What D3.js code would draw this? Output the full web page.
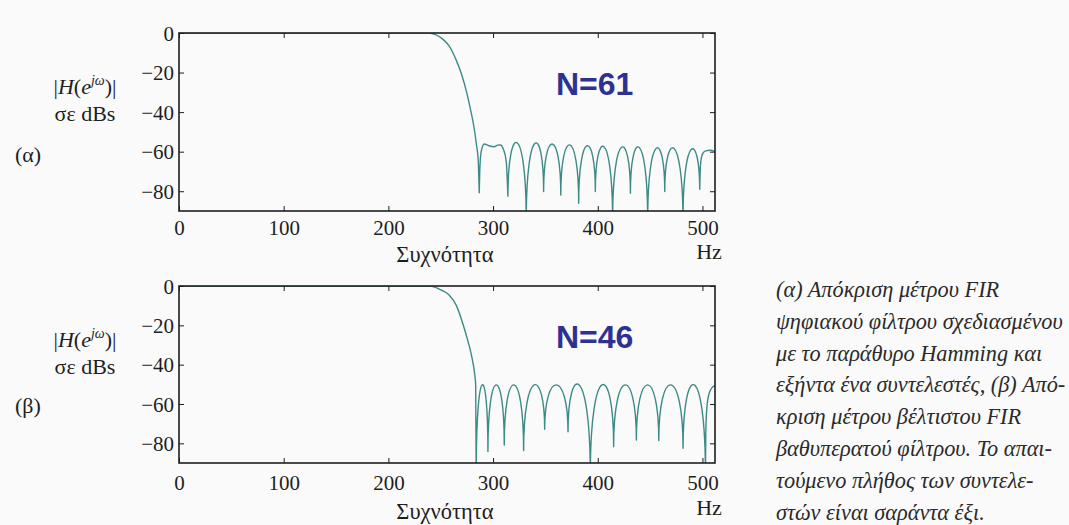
<!DOCTYPE html>
<html>
<head>
<meta charset="utf-8">
<script src="https://cdn.jsdelivr.net/npm/d3@7"></script>
<style>
  html, body { margin: 0; padding: 0; background: #fafafa; }
  svg { display: block; }
</style>
</head>
<body>
<svg id="fig" width="1069" height="525"></svg>
<script>
// Axis ticks
const freqTicks = [0, 100, 200, 300, 400, 500];   // Hz
const dbTicks = [0, -20, -40, -60, -80];          // dB

// (α) FIR lowpass, Hamming window, N = 61
// passband and transition band: [Hz, dB]
const passA = [[0, 0], [239, 0], [245, -0.8], [251, -2.7], [258, -6.5], [264.7, -13.6], [270, -21],
  [275, -30.5], [279, -40], [281.7, -47.4], [284, -56], [285.8, -64.2], [286.8, -81]];
// first stopband lobe (double hump)
const lobeA = [[286.8, -81], [287.5, -67], [288.8, -59.5], [291.6, -56.1], [296, -57], [301, -57.5],
  [304.5, -56.7], [307, -56.6], [310, -59], [312.6, -65], [314.2, -82.8]];
// stopband zeros and the level of the lobe between each pair
const nullHzA = [314.2, 331.7, 348.3, 364.7, 381.8, 397.7, 414.2, 431.2, 447.7, 464.0, 481.4, 497.4];
const nullDbA = [-82.8, -95, -80.2, -81.9, -86.1, -80.2, -95, -81, -95, -80.2, -95, -79.3];
const peakDbA = [-55.5, -55.8, -56.1, -56.6, -57, -57.5, -57.8, -57.8, -58.3, -58.3, -58.8];
// last partial lobe up to 512 Hz
const tailA = [[497.4, -79.3], [498.1, -67], [499.8, -61.5], [503, -59.6], [507.6, -59.3], [512, -60]];

// (β) optimal (equiripple) FIR lowpass, N = 46
const passB = [[0, 0], [239, 0], [245, -0.7], [251, -2.2], [258, -4.6], [265, -10], [271.5, -19.8],
  [276, -28], [280, -36.8], [282.5, -45], [283.4, -50.3], [283.9, -96]];
const nullHzB = [283.9, 295.1, 310.7, 329.2, 349.3, 371.6, 392.9, 415.2, 436.9, 458.3, 481.5, 502.9];
const nullDbB = [-96, -84.2, -80.9, -83.7, -72.9, -74.1, -96, -81.7, -78.3, -78.6, -82.5, -96];
const peakDbB = [-50.3, -50.3, -50.3, -50.3, -50.3, -50.3, -50.3, -50.3, -50.3, -50.3, -50.3];
const tailB = [[502.9, -96], [503.2, -75], [504.2, -62], [506.5, -54.5], [509.5, -51.5], [512, -50.6]];

// Text
const yLabelTop = "σε dBs";
const xName = "Συχνότητα";
const xUnit = "Hz";
const captionLines = [
  "(α) Απόκριση μέτρου FIR",
  "ψηφιακού φίλτρου σχεδιασμένου",
  "με το παράθυρο Hamming και",
  "εξήντα ένα συντελεστές, (β) Από-",
  "κριση μέτρου βέλτιστου FIR",
  "βαθυπερατού φίλτρου. Το απαι-",
  "τούμενο πλήθος των συντελε-",
  "στών είναι σαράντα έξι."
];

// ---- layout ----
const W = 1069, H = 525;
const left = 179, right = 715;
const serif = "'Liberation Serif', Tinos, 'Times New Roman', serif";
const ink = "#1e1e1e";
const curveColor = "#3d8a86";

const panels = [
  { id: "a", top: 33, bottom: 211, letter: "(α)", note: "N=61",
    pass: passA, extra: [lobeA], hz: nullHzA, db: nullDbA, peak: peakDbA, tail: tailA,
    tickY: 24, unitY: 259, nameY: 262, lab1: 94, lab2: 121, lab3: 162, noteY: 95 },
  { id: "b", top: 286, bottom: 463, letter: "(β)", note: "N=46",
    pass: passB, extra: [], hz: nullHzB, db: nullDbB, peak: peakDbB, tail: tailB,
    tickY: 27, unitY: 515, nameY: 519, lab1: 347, lab2: 374, lab3: 413, noteY: 348 }
];

const svg = d3.select("#fig");
svg.append("rect").attr("width", W).attr("height", H).attr("fill", "#fafafa");

const x = d3.scaleLinear().domain([0, 512]).range([left, right]);

// smooth curve through a list of [Hz, dB] points
function smooth(y, pts) {
  return d3.line().x(d => x(d[0])).y(d => y(d[1])).curve(d3.curveMonotoneX)(pts);
}
// stopband lobes: an arch between consecutive zeros, with vertical tangents at the zeros
function arches(y, hz, db, peak) {
  const p = d3.path();
  p.moveTo(x(hz[0]), y(db[0]));
  for (let i = 0; i < peak.length; i++) {
    const x1 = x(hz[i]), x2 = x(hz[i + 1]);
    const y1 = y(db[i]), y2 = y(db[i + 1]), yp = y(peak[i]);
    const c = (yp - 0.125 * (y1 + y2)) / 0.75;
    p.bezierCurveTo(x1, c, x2, c, x2, y2);
  }
  return p.toString();
}

panels.forEach(P => {
  const y = d3.scaleLinear().domain([-90, 0]).range([P.bottom, P.top]);
  const g = svg.append("g");

  g.append("clipPath").attr("id", "clip-" + P.id)
    .append("rect").attr("x", left).attr("y", P.top)
    .attr("width", right - left).attr("height", P.bottom - P.top);

  const plot = g.append("g").attr("clip-path", `url(#clip-${P.id})`);
  const d = [smooth(y, P.pass)]
    .concat(P.extra.map(e => smooth(y, e)))
    .concat([arches(y, P.hz, P.db, P.peak), smooth(y, P.tail)])
    .join(" ");
  plot.append("path").attr("d", d)
    .attr("fill", "none").attr("stroke", curveColor)
    .attr("stroke-width", 1.4).attr("stroke-linejoin", "round");

  // ticks on all four sides, pointing inward
  const fmtDb = v => v === 0 ? "0" : "\u2212" + Math.abs(v);
  const axB = g.append("g").attr("transform", `translate(0,${P.bottom})`)
    .call(d3.axisBottom(x).tickValues(freqTicks).tickSizeInner(-5).tickSizeOuter(0).tickPadding(0));
  axB.selectAll("text").attr("y", P.tickY).attr("dy", null);
  const axL = g.append("g").attr("transform", `translate(${left},0)`)
    .call(d3.axisLeft(y).tickValues(dbTicks).tickSizeInner(-5).tickSizeOuter(0).tickPadding(5).tickFormat(fmtDb));
  axL.selectAll("text").attr("dy", "0.34em");
  g.append("g").attr("transform", `translate(0,${P.top})`)
    .call(d3.axisTop(x).tickValues(freqTicks).tickSizeInner(-5).tickSizeOuter(0).tickFormat(""));
  g.append("g").attr("transform", `translate(${right},0)`)
    .call(d3.axisRight(y).tickValues(dbTicks).tickSizeInner(-5).tickSizeOuter(0).tickFormat(""));

  g.selectAll(".domain").remove();
  g.selectAll(".tick line").attr("stroke", ink).attr("stroke-width", 1);
  g.selectAll(".tick text").attr("font-family", serif).attr("font-size", 21).attr("fill", ink);

  g.append("rect").attr("x", left).attr("y", P.top)
    .attr("width", right - left).attr("height", P.bottom - P.top)
    .attr("fill", "none").attr("stroke", ink).attr("stroke-width", 1.6);

  // axis names
  g.append("text").attr("x", 709).attr("y", P.unitY).attr("text-anchor", "middle")
    .attr("font-family", serif).attr("font-size", 22).attr("fill", ink).text(xUnit);
  g.append("text").attr("x", (left + right) / 2 - 2).attr("y", P.nameY).attr("text-anchor", "middle")
    .attr("font-family", serif).attr("font-size", 22.5).attr("fill", ink).text(xName);

  const mag = g.append("text").attr("x", 85).attr("y", P.lab1).attr("text-anchor", "middle")
    .attr("font-family", serif).attr("font-size", 22).attr("fill", ink);
  mag.append("tspan").text("|");
  mag.append("tspan").attr("font-style", "italic").text("H");
  mag.append("tspan").text("(");
  mag.append("tspan").attr("font-style", "italic").text("e");
  mag.append("tspan").attr("font-style", "italic").attr("font-size", 14).attr("dy", -9).text("jω");
  mag.append("tspan").attr("dy", 9).text(")|");
  g.append("text").attr("x", 85).attr("y", P.lab2).attr("text-anchor", "middle")
    .attr("font-family", serif).attr("font-size", 22).attr("fill", ink).text(yLabelTop);
  g.append("text").attr("x", 15).attr("y", P.lab3)
    .attr("font-family", serif).attr("font-size", 22).attr("fill", ink).text(P.letter);

  g.append("text").attr("x", 556).attr("y", P.noteY)
    .attr("font-family", "'Liberation Sans', Arial, sans-serif").attr("font-weight", "bold")
    .attr("font-size", 32).attr("fill", "#2e3192").text(P.note);
});

// figure caption
const cap = svg.append("text").attr("font-family", serif).attr("font-style", "italic")
  .attr("font-size", 22.3).attr("fill", "#2a2a2a");
captionLines.forEach((line, i) => {
  cap.append("tspan").attr("x", 776).attr("y", 297 + i * 31.8).text(line);
});
</script>
</body>
</html>
